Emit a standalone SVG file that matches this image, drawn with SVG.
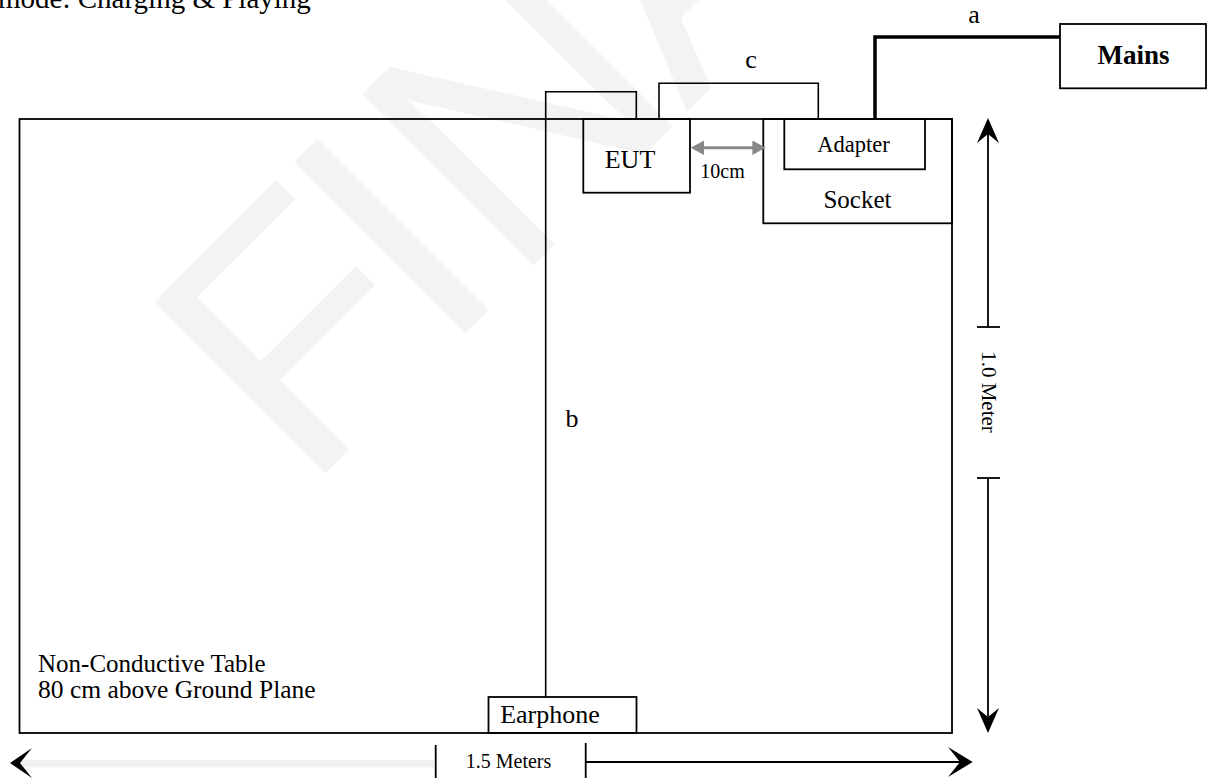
<svg xmlns="http://www.w3.org/2000/svg" width="1210" height="778" viewBox="0 0 1210 778">
<style>
text { font-family: "Liberation Serif", "Times New Roman", serif; fill: #000; }
.box { fill: none; stroke: #000; stroke-width: 1.8; }
.wire { fill: none; stroke: #000; stroke-width: 1.6; }
.thick { fill: none; stroke: #000; stroke-width: 3.5; }
.dim { fill: none; stroke: #000; stroke-width: 1.8; }
.lbl { font-size: 26px; text-anchor: middle; }
.wm { font-family: "Liberation Sans", Arial, sans-serif; font-size: 352px; fill: #f3f3f3; }
</style>
<rect width="1210" height="778" fill="#fff"/>
<g id="watermark">
<text class="wm" transform="translate(326,473) rotate(-45)"><tspan x="-29" y="0">F</tspan><tspan x="165" y="0">I</tspan><tspan x="265" y="0">N</tspan><tspan x="510" y="0">AL</tspan></text>
</g>
<text x="-2" y="8" font-size="29">mode: Charging &amp; Playing</text>
<g id="table">
<rect class="box" x="19.5" y="119" width="932.5" height="614"/>
<text x="38" y="671.5" font-size="25">Non-Conductive Table</text>
<text x="38" y="698" font-size="25.5">80 cm above Ground Plane</text>
</g>
<g id="connectors">
<polyline class="wire" points="545.7,697 545.7,91.7 636.3,91.7 636.3,119"/>
<polyline class="wire" points="659,119 659,83.3 818.3,83.3 818.3,120"/>
<polyline class="thick" points="875,119 875,37 1060,37"/>
<text class="lbl" x="751" y="68">c</text>
<text class="lbl" x="572" y="427">b</text>
<text class="lbl" x="974" y="23">a</text>
</g>
<g id="eut">
<rect class="box" x="583.3" y="119" width="106.7" height="73.7"/>
<text class="lbl" x="630" y="168">EUT</text>
</g>
<g id="socket">
<rect class="box" x="763.3" y="119" width="188.7" height="104.3"/>
<text x="857.5" y="208" font-size="25" text-anchor="middle">Socket</text>
</g>
<g id="adapter">
<rect class="box" x="784.3" y="119" width="140.7" height="50.3"/>
<text x="853.5" y="151.5" font-size="22.5" text-anchor="middle">Adapter</text>
</g>
<g id="mains">
<rect class="box" x="1060" y="24" width="146" height="64.3"/>
<text x="1133.5" y="63.5" font-size="27" font-weight="bold" text-anchor="middle">Mains</text>
</g>
<g id="earphone">
<rect class="box" x="488.5" y="697" width="148" height="36"/>
<text x="550" y="723" font-size="26" text-anchor="middle">Earphone</text>
</g>
<g id="gap">
<line x1="702" y1="147.7" x2="754" y2="147.7" stroke="#888" stroke-width="3"/>
<polygon points="690.7,147.7 704,140.5 704,154.9" fill="#888"/>
<polygon points="765.7,147.7 752.4,140.5 752.4,154.9" fill="#888"/>
<text x="722.5" y="177.7" font-size="20" text-anchor="middle">10cm</text>
</g>
<g id="dim-height">
<line class="dim" x1="988" y1="128" x2="988" y2="327"/>
<line class="dim" x1="977" y1="327" x2="1000" y2="327"/>
<line class="dim" x1="977" y1="478" x2="1000" y2="478"/>
<line class="dim" x1="988" y1="478" x2="988" y2="722"/>
<polygon points="988,118 999,143 988,134 977,143" fill="#000"/>
<polygon points="988,733 999,708 988,717 977,708" fill="#000"/>
<text transform="translate(981.5,392) rotate(90)" font-size="21" text-anchor="middle">1.0 Meter</text>
</g>
<g id="dim-width">
<line x1="18" y1="763.8" x2="434" y2="763.8" stroke="#f0f0f0" stroke-width="7.5"/>
<polygon points="10,763 32,748 20,763 32,778" fill="#000"/>
<line class="dim" x1="435.7" y1="745" x2="435.7" y2="778"/>
<line class="dim" x1="585.7" y1="743" x2="585.7" y2="778"/>
<line class="dim" x1="585.7" y1="762" x2="963" y2="762"/>
<polygon points="972.7,762 948,747 960,762 948,777" fill="#000"/>
<text x="508.5" y="768" font-size="20" text-anchor="middle">1.5 Meters</text>
</g>
</svg>
